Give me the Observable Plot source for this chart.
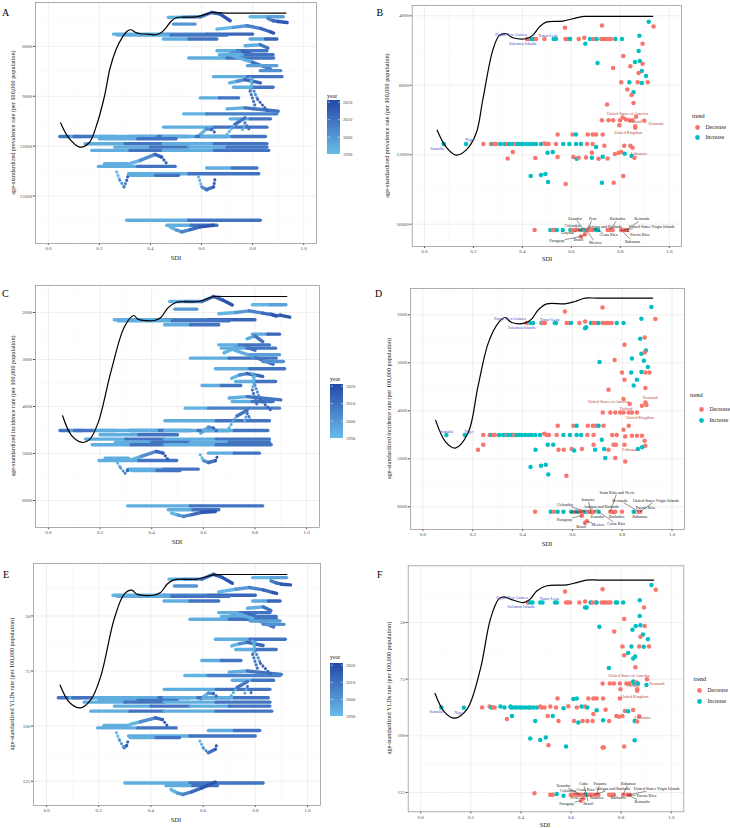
<!DOCTYPE html>
<html><head><meta charset="utf-8">
<script src="https://cdn.jsdelivr.net/npm/d3@7"></script>
<script src="https://cdn.jsdelivr.net/npm/@observablehq/plot@0.6"></script>
<style>
body{margin:0;background:#fff;}
#root{position:relative;width:730px;height:828px;overflow:hidden;background:#fff;}
</style></head><body><div id="root"></div><script>
// ---------------- DATA ----------------
const xTicks = [0, 0.2, 0.4, 0.6, 0.8, 1.0];
const xMinor = [0.1, 0.3, 0.5, 0.7, 0.9];
const yearTicks = [1990, 2000, 2010, 2020];
const trendLevels = ["Decrease", "Increase"];
const TREND = {D: "Decrease", I: "Increase"};

const ticksPrev = [6000, 9000, 12000, 15000];
const minorPrev = [4500, 7500, 10500, 13500, 16500];
const ticksPrevB = [4000, 8000, 12000, 16000];
const minorPrevB = [6000, 10000, 14000];
const ticksInc = [2000, 3000, 4000, 5000, 6000];
const minorIncC = [1500, 2500, 3500, 4500, 5500, 6500];
const minorIncD = [1500, 2500, 3500, 4500, 5500];
const ticksYld = [50, 75, 100, 125];
const minorYld = [37.5, 62.5, 87.5, 112.5];

// expected-value curves [SDI, rate]
const curveA = [[.048,10600],[.08,11500],[.124,12060],[.16,11800],[.19,10700],[.22,9000],[.242,7300],[.265,6200],[.288,5500],[.31,5080],[.325,5000],[.34,5150],[.36,5240],[.386,5260],[.42,5300],[.44,5200],[.46,4900],[.48,4500],[.503,4260],[.54,4240],[.58,4220],[.61,4100],[.64,3960],[.673,3990],[.70,4000],[.93,4000]];
const curveB = [[.052,10584],[.088,11541],[.129,12020],[.17,11733],[.211,10776],[.238,8862],[.279,5990],[.306,5129],[.333,5034],[.361,5263],[.415,5321],[.442,5129],[.469,4651],[.497,4364],[.565,4306],[.605,4172],[.653,4038],[.70,4038],[.932,4038]];
const curveC = [[.055,4198],[.09,4620],[.132,4765],[.16,4700],[.192,4354],[.244,3220],[.295,2298],[.331,2064],[.346,2142],[.41,2170],[.436,2106],[.462,1908],[.494,1787],[.583,1766],[.641,1660],[.673,1660],[.72,1660],[.923,1660]];
const curveD = [[.051,4200],[.09,4640],[.130,4776],[.181,4464],[.221,3492],[.262,2590],[.302,2173],[.329,2056],[.356,2160],[.409,2173],[.436,2090],[.463,1896],[.497,1771],[.57,1771],[.611,1722],[.651,1653],[.70,1653],[.922,1653]];
const curveE = [[.052,81.4],[.09,89.5],[.131,91.7],[.17,88],[.208,77.3],[.259,51.5],[.297,40.2],[.326,38.3],[.348,40.2],[.411,40.6],[.437,39.4],[.462,35.6],[.488,33.6],[.577,33.3],[.641,31.4],[.673,31.2],[.72,31.2],[.921,31.2]];
const curveF = [[.057,81.3],[.095,89.5],[.135,92.2],[.185,88.2],[.238,70.6],[.278,48.5],[.311,39.7],[.331,38.7],[.358,39.7],[.411,41.2],[.437,39.7],[.464,36],[.503,33.8],[.583,33.4],[.623,32.4],[.662,31.3],[.71,31.3],[.93,31.3]];

// country trajectories: [year, SDI, rate]
const streaksA = [
 [[1990,.47,4260],[2000,.53,4240],[2008,.595,4220],[2013,.64,3960],[2017,.673,4060],[2021,.712,4460]],
 [[1990,.79,4220],[1996,.86,4220],[2000,.92,4220]],
 [[2004,.86,4320],[2010,.88,4460],[2015,.90,4500],[2021,.935,4560]],
 [[1995,.49,4660],[2015,.575,4660]],
 [[1990,.66,4960],[1997,.725,4860],[2004,.778,4760],[2010,.83,4920],[2016,.869,5120],[2021,.882,5200]],
 [[1990,.255,5260],[2000,.45,5260],[2010,.62,5260],[2021,.80,5260]],
 [[1990,.27,5320],[2005,.48,5320],[2021,.70,5320]],
 [[1990,.45,5560],[2005,.55,5560],[2021,.66,5560]],
 [[1990,.79,5560],[2010,.85,5560],[2021,.895,5560]],
 [[1990,.77,5960],[2005,.83,5900],[2021,.86,6100]],
 [[1990,.66,6260],[2005,.74,6260],[2021,.856,6260]],
 [[1990,.68,6600],[2000,.72,6400],[2010,.76,6300],[2021,.80,6500]],
 [[1990,.67,6500],[2005,.77,6500],[2021,.88,6500]],
 [[1990,.55,6700],[2005,.70,6700],[2021,.882,6700]],
 [[1990,.72,6560],[2005,.80,6960],[2021,.87,7360]],
 [[1990,.78,7160],[2021,.895,7160]],
 [[1995,.83,7460],[2021,.91,7460]],
 [[1990,.647,7820],[2005,.78,7820],[2021,.915,7820]],
 [[1990,.71,8200],[2000,.74,8100],[2010,.77,8000],[2021,.83,8200]],
 [[1990,.725,8460],[2005,.80,8460],[2021,.88,8460]],
 [[1990,.79,7900],[2000,.80,8500],[2010,.82,9200],[2021,.865,10000]],
 [[1990,.80,8000],[2005,.79,8700],[2021,.81,9600]],
 [[1990,.595,9100],[2005,.67,9100],[2021,.745,9100]],
 [[1990,.70,9760],[2005,.77,9700],[2021,.90,9900]],
 [[1990,.53,10060],[2000,.62,10060],[2021,.895,10060]],
 [[1990,.712,10360],[2005,.79,10360],[2021,.87,10360]],
 [[1990,.70,11300],[2005,.73,10700],[2021,.77,10300]],
 [[1990,.76,11000],[2005,.77,10600],[2021,.79,11100]],
 [[1990,.451,10860],[2005,.65,10860],[2021,.856,10860]],
 [[1990,.59,11360],[2000,.62,10960],[2010,.64,11000],[2021,.66,11300]],
 [[2021,.045,11420],[2005,.09,11420],[1990,.13,11420]],
 [[2021,.10,11420],[2005,.18,11420],[1990,.26,11420]],
 [[1990,.20,11420],[2005,.32,11420],[2021,.45,11420]],
 [[1990,.32,11420],[2005,.43,11420],[2021,.55,11420]],
 [[1990,.45,11420],[2005,.58,11420],[2021,.70,11420]],
 [[1990,.60,11420],[2005,.72,11420],[2021,.85,11420]],
 [[1990,.20,11560],[2005,.35,11560],[2021,.50,11560]],
 [[1990,.144,11860],[2005,.30,11860],[2021,.45,11860]],
 [[1990,.45,11860],[2005,.65,11860],[2021,.856,11860]],
 [[1990,.26,12060],[2005,.40,12060],[2021,.55,12060]],
 [[1990,.55,12060],[2005,.70,12060],[2021,.856,12060]],
 [[1990,.17,12260],[2005,.32,12260],[2021,.45,12260]],
 [[1990,.45,12260],[2005,.65,12260],[2021,.863,12260]],
 [[1990,.32,13060],[2000,.36,12860],[2010,.418,12500],[2016,.444,12660],[2021,.464,13060]],
 [[1990,.196,13220],[2005,.35,13220],[2021,.497,13220]],
 [[1990,.22,13060],[2005,.31,13060]],
 [[1990,.62,13320],[2005,.72,13320],[2021,.817,13320]],
 [[1990,.314,13660],[2005,.55,13660],[2021,.824,13660]],
 [[1990,.32,13760],[2005,.42,13760],[2021,.51,13760]],
 [[1990,.268,13560],[1998,.28,14060],[2005,.297,14460],[2012,.307,14060],[2021,.314,13660]],
 [[1990,.588,13860],[2000,.601,14460],[2008,.62,14620],[2015,.647,14460],[2021,.654,13860]],
 [[1990,.307,16460],[2005,.55,16460],[2021,.83,16460]],
 [[1990,.464,16760],[2005,.56,16760],[2021,.66,16760]],
 [[1990,.477,16860],[1998,.503,17060],[2004,.523,17160],[2010,.556,17020],[2016,.595,16860],[2021,.647,16760]]
];
const streaksC = [
 [[1990,.47,1766],[2000,.53,1766],[2008,.595,1766],[2013,.64,1660],[2017,.673,1730],[2021,.712,1840]],
 [[1990,.79,1837],[1996,.86,1837],[2000,.92,1837]],
 [[2004,.86,2030],[2010,.88,2070],[2015,.90,2060],[2021,.935,2100]],
 [[1995,.49,1929],[2015,.575,1929]],
 [[1990,.66,2028],[1997,.725,2000],[2004,.778,1965],[2010,.83,2014],[2016,.869,2050],[2021,.882,2070]],
 [[1990,.255,2156],[2000,.45,2156],[2010,.62,2156],[2021,.80,2156]],
 [[1990,.27,2177],[2005,.48,2177],[2021,.70,2177]],
 [[1990,.45,2262],[2005,.55,2262],[2021,.66,2262]],
 [[1990,.79,2461],[2010,.85,2461],[2021,.895,2461]],
 [[1990,.77,2560],[2005,.80,2500],[2021,.83,2620]],
 [[1990,.66,2688],[2005,.74,2688],[2021,.856,2688]],
 [[1990,.68,2860],[2000,.72,2760],[2010,.76,2720],[2021,.80,2800]],
 [[1990,.67,2759],[2005,.77,2759],[2021,.88,2759]],
 [[1990,.55,2971],[2005,.70,2971],[2021,.882,2971]],
 [[1990,.72,2800],[2005,.80,2950],[2021,.87,3100]],
 [[1990,.78,2900],[2021,.895,2900]],
 [[1995,.83,3042],[2021,.91,3042]],
 [[1990,.647,3198],[2005,.78,3198],[2021,.915,3198]],
 [[1990,.71,3400],[2000,.74,3330],[2010,.77,3300],[2021,.83,3360]],
 [[1990,.725,3468],[2005,.80,3468],[2021,.88,3468]],
 [[1990,.79,3300],[2000,.80,3550],[2010,.82,3850],[2021,.865,4100]],
 [[1990,.80,3350],[2005,.79,3650],[2021,.81,4000]],
 [[1990,.595,3553],[2005,.67,3553],[2021,.745,3553]],
 [[1990,.70,3820],[2005,.77,3790],[2021,.90,3860]],
 [[1990,.53,4035],[2000,.62,4035],[2021,.895,4035]],
 [[1990,.712,3893],[2005,.79,3893],[2021,.87,3893]],
 [[1990,.70,4450],[2005,.73,4200],[2021,.77,4080]],
 [[1990,.76,4300],[2005,.77,4150],[2021,.79,4350]],
 [[1990,.451,4304],[2005,.65,4304],[2021,.856,4304]],
 [[1990,.59,4567],[2000,.62,4440],[2010,.64,4460],[2021,.66,4560]],
 [[2021,.045,4510],[2005,.09,4510],[1990,.13,4510]],
 [[2021,.10,4510],[2005,.18,4510],[1990,.26,4510]],
 [[1990,.20,4510],[2005,.32,4510],[2021,.45,4510]],
 [[1990,.32,4510],[2005,.43,4510],[2021,.55,4510]],
 [[1990,.45,4510],[2005,.58,4510],[2021,.70,4510]],
 [[1990,.60,4510],[2005,.72,4510],[2021,.85,4510]],
 [[1990,.20,4600],[2005,.35,4600],[2021,.50,4600]],
 [[1990,.144,4694],[2005,.30,4694],[2021,.45,4694]],
 [[1990,.45,4694],[2005,.65,4694],[2021,.856,4694]],
 [[1990,.26,4760],[2005,.40,4760],[2021,.55,4760]],
 [[1990,.55,4760],[2005,.70,4760],[2021,.856,4760]],
 [[1990,.17,4815],[2005,.32,4815],[2021,.45,4815]],
 [[1990,.45,4815],[2005,.65,4815],[2021,.863,4815]],
 [[1990,.32,5134],[2000,.36,5060],[2010,.418,4957],[2016,.444,4990],[2021,.464,5134]],
 [[1990,.196,5148],[2005,.35,5148],[2021,.497,5148]],
 [[1990,.22,5100],[2005,.31,5100]],
 [[1990,.62,4992],[2005,.72,4992],[2021,.817,4992]],
 [[1990,.307,5333],[2005,.45,5333],[2021,.58,5333]],
 [[1990,.32,5360],[2005,.42,5360],[2021,.51,5360]],
 [[1990,.268,5205],[1998,.28,5310],[2005,.297,5418],[2012,.307,5360],[2021,.314,5311]],
 [[1990,.588,5028],[2000,.601,5150],[2008,.62,5191],[2015,.647,5150],[2021,.654,5064]],
 [[1990,.307,6113],[2005,.55,6113],[2021,.83,6113]],
 [[1990,.464,6197],[2005,.56,6197],[2021,.66,6197]],
 [[1990,.477,6268],[1998,.503,6310],[2004,.523,6339],[2010,.556,6300],[2016,.595,6250],[2021,.647,6233]]
];
const streaksE = [
 [[1990,.47,33.3],[2000,.53,33.3],[2008,.595,33.3],[2013,.64,31.1],[2017,.673,32.5],[2021,.712,35.2]],
 [[1990,.79,32.6],[1996,.86,32.6],[2000,.92,32.6]],
 [[2004,.86,34.1],[2010,.88,35],[2015,.90,35.6],[2021,.935,35.9]],
 [[1995,.49,36.4],[2015,.575,36.4]],
 [[1990,.66,39.1],[1997,.725,37.9],[2004,.778,37.1],[2010,.83,38.2],[2016,.869,39.4],[2021,.882,39.8]],
 [[1990,.255,40.6],[2000,.45,40.6],[2010,.62,40.6],[2021,.80,40.6]],
 [[1990,.27,41.1],[2005,.48,41.1],[2021,.70,41.1]],
 [[1990,.45,43.2],[2005,.55,43.2],[2021,.66,43.2]],
 [[1990,.79,43.2],[2010,.85,43.2],[2021,.895,43.2]],
 [[1990,.77,46.5],[2005,.83,45.9],[2021,.86,47.5]],
 [[1990,.66,48.5],[2005,.74,48.5],[2021,.856,48.5]],
 [[1990,.68,51],[2000,.72,49.5],[2010,.76,48.8],[2021,.80,50]],
 [[1990,.67,50.2],[2005,.77,50.2],[2021,.88,50.2]],
 [[1990,.55,51.5],[2005,.70,51.5],[2021,.882,51.5]],
 [[1990,.72,48.5],[2005,.80,51.5],[2021,.87,55]],
 [[1990,.78,52.3],[2021,.895,52.3]],
 [[1995,.83,53.8],[2021,.91,53.8]],
 [[1990,.647,60.6],[2005,.78,60.6],[2021,.915,60.6]],
 [[1990,.71,63.6],[2000,.74,62.6],[2010,.77,62],[2021,.83,63.4]],
 [[1990,.725,65.2],[2005,.80,65.2],[2021,.88,65.2]],
 [[1990,.79,61.4],[2000,.80,66],[2010,.82,71.5],[2021,.865,77.3]],
 [[1990,.80,62],[2005,.79,67.5],[2021,.81,74.5]],
 [[1990,.595,70.2],[2005,.67,70.2],[2021,.745,70.2]],
 [[1990,.70,75.5],[2005,.77,75],[2021,.90,76.5]],
 [[1990,.53,77],[2000,.62,77],[2021,.895,77]],
 [[1990,.712,79.2],[2005,.79,79.2],[2021,.87,79.2]],
 [[1990,.70,87.5],[2005,.73,82.5],[2021,.77,79.8]],
 [[1990,.76,85],[2005,.77,82],[2021,.79,86]],
 [[1990,.451,83.3],[2005,.65,83.3],[2021,.856,83.3]],
 [[1990,.59,87.7],[2000,.62,85],[2010,.64,85.2],[2021,.66,87.4]],
 [[2021,.045,87.1],[2005,.09,87.1],[1990,.13,87.1]],
 [[2021,.10,87.1],[2005,.18,87.1],[1990,.26,87.1]],
 [[1990,.20,87.1],[2005,.32,87.1],[2021,.45,87.1]],
 [[1990,.32,87.1],[2005,.43,87.1],[2021,.55,87.1]],
 [[1990,.45,87.1],[2005,.58,87.1],[2021,.70,87.1]],
 [[1990,.60,87.1],[2005,.72,87.1],[2021,.85,87.1]],
 [[1990,.20,88.3],[2005,.35,88.3],[2021,.50,88.3]],
 [[1990,.144,89.1],[2005,.30,89.1],[2021,.45,89.1]],
 [[1990,.45,89.1],[2005,.65,89.1],[2021,.856,89.1]],
 [[1990,.26,90.9],[2005,.40,90.9],[2021,.55,90.9]],
 [[1990,.55,90.9],[2005,.70,90.9],[2021,.856,90.9]],
 [[1990,.17,93.2],[2005,.32,93.2],[2021,.45,93.2]],
 [[1990,.45,93.2],[2005,.65,93.2],[2021,.863,93.2]],
 [[1990,.32,99.2],[2000,.36,98],[2010,.418,96.2],[2016,.444,97],[2021,.464,100]],
 [[1990,.196,100.8],[2005,.35,100.8],[2021,.497,100.8]],
 [[1990,.22,99.7],[2005,.31,99.7]],
 [[1990,.62,102],[2005,.72,102],[2021,.817,102]],
 [[1990,.314,104.5],[2005,.55,104.5],[2021,.80,104.5]],
 [[1990,.32,105.2],[2005,.42,105.2],[2021,.51,105.2]],
 [[1990,.268,103],[1998,.28,106.5],[2005,.297,109.8],[2012,.307,108.8],[2021,.314,106]],
 [[1990,.588,106.8],[2000,.601,110],[2008,.62,112.1],[2015,.647,110.5],[2021,.654,107.6]],
 [[1990,.30,125.8],[2005,.55,125.8],[2021,.83,125.8]],
 [[1990,.458,127],[2005,.56,127],[2021,.655,127]],
 [[1990,.477,128.8],[1998,.503,130.4],[2004,.523,131],[2010,.556,129.8],[2016,.595,128],[2021,.647,125.4]]
];

// 2021 points: [SDI, rate, trend]
const pointsB = [
 [.574,4689,"D"],[.725,4555,"D"],[.916,4345,"I"],[.936,4612,"D"],
 [.419,5340,"D"],[.429,5340,"D"],[.438,5340,"I"],[.446,5340,"I"],[.456,5340,"D"],[.490,5340,"D"],[.528,5340,"I"],[.537,5340,"I"],[.576,5340,"D"],[.586,5340,"D"],[.595,5340,"I"],[.630,5340,"D"],[.653,5263,"D"],[.676,5340,"I"],[.690,5340,"D"],[.703,5340,"I"],[.722,5340,"D"],[.732,5340,"D"],[.741,5340,"D"],[.752,5340,"D"],[.762,5340,"D"],[.780,5340,"I"],[.807,5340,"I"],
 [.657,5608,"I"],[.878,5148,"I"],[.891,5608,"D"],[.875,6029,"I"],[.812,6316,"D"],[.880,6603,"I"],[.707,6718,"I"],[.860,6660,"I"],[.891,6756,"D"],[.771,7005,"D"],[.841,6909,"D"],[.888,7177,"I"],[.875,7292,"D"],[.905,7464,"I"],[.804,7828,"D"],[.837,7828,"I"],[.871,7828,"D"],[.888,7866,"I"],[.912,7828,"D"],[.829,8249,"D"],[.854,8402,"I"],[.846,8555,"D"],[.854,9015,"D"],[.746,9111,"D"],
 [.725,10010,"D"],[.752,10010,"D"],[.771,10010,"D"],[.799,10010,"D"],[.810,9857,"D"],[.823,9970,"D"],[.837,10010,"D"],[.850,10010,"D"],[.864,9819,"D"],[.898,10048,"D"],[.861,10355,"D"],[.861,10450,"D"],[.796,10297,"D"],
 [.544,10833,"D"],[.605,10833,"D"],[.619,10833,"I"],[.667,10833,"D"],[.687,10833,"D"],[.701,10833,"D"],[.728,10833,"D"],
 [.079,11388,"I"],[.170,11388,"I"],[.241,11388,"D"],[.272,11388,"D"],[.279,11388,"I"],[.286,11388,"D"],[.293,11388,"D"],[.310,11388,"I"],[.327,11388,"I"],[.333,11388,"I"],[.340,11388,"D"],[.347,11388,"I"],[.361,11388,"I"],[.371,11388,"D"],[.381,11388,"I"],[.392,11388,"I"],[.401,11388,"I"],[.415,11388,"I"],[.429,11388,"I"],[.442,11388,"I"],[.456,11388,"I"],[.476,11388,"I"],[.490,11350,"D"],[.497,11388,"D"],[.507,11388,"D"],[.537,11388,"D"],[.567,11388,"I"],[.592,11388,"I"],[.619,11388,"I"],[.639,11388,"I"],[.664,11388,"D"],[.687,11388,"D"],
 [.735,11484,"D"],[.816,11484,"D"],[.841,11484,"D"],[.701,11560,"I"],[.850,11598,"D"],[.361,11847,"D"],[.503,11886,"I"],[.524,11847,"I"],[.684,11886,"D"],[.778,11962,"D"],[.793,11886,"D"],[.804,11847,"D"],[.818,11943,"I"],[.846,12077,"I"],[.340,12211,"D"],[.453,12192,"D"],[.544,12135,"D"],[.608,12135,"D"],[.622,12230,"I"],[.630,12173,"D"],[.660,12154,"D"],[.684,12173,"I"],[.711,12230,"D"],[.728,12115,"I"],[.748,12211,"D"],[.858,12173,"D"],
 [.434,13226,"I"],[.476,13168,"I"],[.494,13111,"I"],[.505,13570,"I"],[.725,13608,"I"],[.577,13685,"D"],[.773,13608,"D"],[.812,13226,"D"],
 [.450,16326,"D"],[.514,16326,"I"],[.524,16326,"D"],[.531,16326,"D"],[.541,16326,"I"],[.565,16326,"I"],[.596,16326,"I"],[.605,16326,"D"],[.616,16326,"D"],[.633,16326,"D"],[.644,16326,"I"],[.653,16326,"D"],[.660,16326,"I"],[.667,16326,"D"],[.676,16326,"D"],[.687,16326,"D"],[.701,16326,"I"],[.710,16326,"I"],[.748,16326,"D"],[.759,16326,"D"],[.769,16326,"D"],[.803,16326,"D"],[.816,16326,"D"],[.827,16326,"D"],[.639,16709,"D"],[.656,16575,"D"]
];
const pointsD = [
 [.570,1931,"D"],[.721,1847,"D"],[.917,1840,"I"],[.933,2090,"D"],[.877,2083,"I"],
 [.416,2173,"D"],[.432,2173,"I"],[.442,2173,"I"],[.476,2173,"I"],[.480,2173,"D"],[.490,2173,"D"],[.529,2173,"I"],[.534,2173,"I"],[.577,2173,"D"],[.587,2173,"D"],[.595,2173,"I"],[.628,2173,"D"],[.651,2138,"D"],[.674,2173,"I"],[.685,2173,"D"],[.695,2173,"D"],[.705,2173,"I"],[.722,2173,"D"],[.732,2173,"D"],[.740,2173,"D"],[.748,2173,"D"],[.758,2173,"D"],[.778,2173,"I"],[.805,2173,"I"],[.651,2278,"I"],[.655,2260,"I"],
 [.890,2472,"D"],[.872,2500,"I"],[.809,2625,"D"],[.895,2743,"I"],[.877,2812,"I"],[.890,2784,"D"],[.839,2909,"I"],[.769,2944,"D"],[.709,2985,"I"],[.887,2958,"I"],[.903,3090,"I"],[.836,3201,"I"],[.799,3201,"D"],[.877,3194,"I"],[.893,3201,"D"],[.909,3201,"D"],[.809,3353,"D"],[.859,3353,"I"],[.846,3471,"I"],[.893,3527,"D"],[.745,3562,"D"],
 [.722,4033,"D"],[.752,4033,"D"],[.772,4033,"D"],[.792,4033,"D"],[.805,4033,"D"],[.826,4033,"D"],[.839,4033,"D"],[.859,4033,"D"],[.805,3756,"D"],[.830,3860,"D"],[.879,3895,"D"],[.897,3880,"D"],[.893,3825,"D"],
 [.541,4311,"D"],[.604,4311,"D"],[.617,4311,"I"],[.662,4311,"D"],[.682,4311,"D"],[.695,4311,"D"],[.705,4311,"I"],[.725,4311,"D"],[.826,4311,"D"],
 [.094,4505,"I"],[.168,4505,"I"],[.242,4505,"D"],[.268,4505,"D"],[.275,4505,"I"],[.282,4505,"D"],[.289,4505,"D"],[.306,4505,"I"],[.322,4505,"I"],[.330,4505,"I"],[.336,4505,"D"],[.343,4505,"I"],[.357,4505,"I"],[.366,4505,"D"],[.376,4505,"I"],[.387,4505,"I"],[.396,4505,"I"],[.410,4505,"I"],[.423,4505,"I"],[.436,4505,"I"],[.451,4505,"I"],[.470,4505,"I"],[.487,4480,"D"],[.497,4505,"D"],[.506,4505,"D"],[.537,4505,"D"],[.564,4505,"I"],[.590,4505,"I"],[.617,4505,"I"],[.635,4505,"I"],[.660,4505,"D"],[.685,4505,"D"],[.760,4505,"D"],[.778,4505,"D"],[.805,4394,"D"],[.812,4533,"D"],
 [.221,4811,"D"],[.242,4707,"D"],[.452,4811,"I"],[.501,4707,"I"],[.523,4707,"I"],[.544,4811,"D"],[.565,4811,"D"],[.597,4797,"D"],[.607,4825,"I"],[.638,4797,"D"],[.685,4707,"D"],[.691,4811,"I"],[.718,4603,"I"],[.727,4797,"I"],[.745,4811,"D"],[.765,4707,"D"],[.775,4707,"D"],[.809,4707,"D"],[.839,4519,"D"],[.859,4519,"D"],[.879,4519,"D"],[.890,4623,"D"],[.893,4727,"D"],[.863,4797,"I"],[.880,4760,"I"],
 [.732,4985,"I"],[.772,4985,"D"],[.812,5054,"D"],[.432,5172,"I"],[.474,5144,"I"],[.493,5123,"I"],[.503,5325,"I"],[.576,5352,"D"],
 [.450,6101,"D"],[.513,6101,"I"],[.526,6101,"D"],[.541,6101,"I"],[.564,6101,"I"],[.597,6101,"I"],[.611,6101,"D"],[.620,6101,"I"],[.631,6101,"D"],[.644,6101,"D"],[.651,6101,"I"],[.664,6101,"D"],[.675,6101,"D"],[.687,6101,"D"],[.705,6101,"I"],[.752,6101,"D"],[.761,6101,"D"],[.772,6101,"D"],[.799,6101,"D"],[.846,6101,"I"],[.866,6101,"D"],[.872,6101,"D"],[.638,6184,"D"],[.658,6302,"D"],[.651,6330,"D"]
];
const pointsF = [
 [.576,36.3,"D"],[.726,35.3,"D"],[.921,33.5,"I"],[.938,35.6,"D"],
 [.428,41.2,"D"],[.437,41.2,"I"],[.446,41.2,"I"],[.477,41.2,"I"],[.486,41.2,"I"],[.536,41.2,"I"],[.543,41.2,"I"],[.580,41.2,"D"],[.587,41.2,"D"],[.596,41.2,"D"],[.633,41.2,"D"],[.656,40.8,"D"],[.678,41.2,"I"],[.686,41.2,"D"],[.699,41.2,"D"],[.702,41.2,"I"],[.722,41.2,"D"],[.731,41.2,"D"],[.738,41.2,"D"],[.748,41.2,"D"],[.757,41.2,"D"],[.779,41.2,"I"],[.784,41.2,"I"],[.808,41.2,"I"],
 [.656,43.4,"I"],[.662,43.4,"I"],[.874,40.2,"I"],[.891,43.4,"D"],[.874,47.1,"I"],[.812,48.5,"D"],[.877,51.2,"I"],[.713,51.9,"I"],[.858,51.5,"I"],[.894,51.5,"D"],[.772,54,"D"],[.845,53.2,"I"],[.887,55.3,"I"],[.877,56.3,"D"],[.907,57.4,"I"],[.805,60.6,"D"],[.841,60.6,"I"],[.872,60.6,"D"],[.890,60.7,"I"],[.911,60.6,"D"],[.828,63.5,"I"],[.812,64.4,"D"],[.848,65.9,"I"],[.856,65,"I"],[.857,69.8,"D"],[.751,70.1,"I"],
 [.726,76.9,"D"],[.755,76.9,"D"],[.771,76.9,"D"],[.795,76.9,"D"],[.821,76.9,"D"],[.834,76.9,"D"],[.848,76,"I"],[.852,76.9,"I"],[.861,76.5,"D"],[.867,76.9,"I"],[.901,77.6,"I"],[.903,75,"D"],[.864,79.4,"D"],[.864,80.1,"D"],[.797,79.4,"D"],
 [.546,83.5,"D"],[.609,83.8,"I"],[.623,83.5,"I"],[.669,83.5,"D"],[.689,83.5,"D"],[.702,83.5,"D"],[.728,83.5,"D"],[.795,83.5,"D"],
 [.082,87.5,"I"],[.172,87.6,"I"],[.245,87.5,"D"],[.275,87.1,"D"],[.282,87.5,"I"],[.289,87.5,"D"],[.295,87.5,"D"],[.318,87.1,"I"],[.334,87.5,"I"],[.358,87.1,"I"],[.360,87.5,"I"],[.371,87.5,"I"],[.382,87.5,"I"],[.395,87.5,"I"],[.404,87.5,"I"],[.417,87.5,"I"],[.430,87.5,"I"],[.437,87.5,"I"],[.450,87.5,"I"],[.464,87.5,"I"],[.477,87.1,"D"],[.483,87.5,"D"],[.494,87.5,"D"],[.517,87.1,"D"],[.540,87.5,"D"],[.570,87.8,"I"],[.589,87,"D"],[.623,87.5,"D"],[.642,87.1,"I"],[.656,87.1,"D"],[.665,87.5,"I"],
 [.344,92.6,"D"],[.364,91.2,"I"],[.457,93.4,"I"],[.507,91.2,"D"],[.527,91.2,"I"],[.550,93.4,"D"],[.612,93.4,"D"],[.629,94.1,"I"],[.646,93.4,"D"],[.665,93.4,"D"],[.686,93.4,"D"],[.689,90.4,"D"],[.702,88.7,"I"],[.728,93.1,"I"],[.738,88.5,"D"],[.752,93.4,"D"],[.781,91.2,"D"],[.791,91.6,"D"],[.805,91.2,"D"],[.815,89,"D"],[.828,89.1,"I"],[.848,88.6,"D"],[.872,91.4,"D"],[.854,93.4,"I"],[.864,93.7,"D"],
 [.437,101.2,"I"],[.477,101.8,"I"],[.499,100.7,"I"],[.510,104.1,"D"],[.580,104.7,"I"],[.726,105.1,"D"],[.731,105.1,"D"],[.812,104.7,"D"],[.854,101.9,"I"],
 [.454,125.3,"D"],[.517,126,"D"],[.527,126,"D"],[.543,125.7,"I"],[.570,126.4,"I"],[.599,126,"D"],[.609,126,"D"],[.620,126,"D"],[.630,126,"D"],[.640,126,"D"],[.652,126,"D"],[.662,126,"I"],[.673,126,"D"],[.682,126,"D"],[.691,126,"D"],[.702,126,"D"],[.709,126,"D"],[.752,126,"D"],[.762,126,"D"],[.771,126,"D"],[.808,126,"D"],[.824,126,"D"],[.834,126,"D"],[.640,128.6,"D"],[.649,127.6,"D"]
];

// labels: [name, point SDI, point rate, label SDI, label rate, group]
const labelsB = [
 ["Papua New Guinea",.438,5340,.354,5072,"I"],["Timor-Leste",.537,5340,.505,5168,"I"],["Solomon Islands",.446,5340,.401,5589,"I"],
 ["Niger",.170,11388,.186,11120,"I"],["Somalia",.079,11388,.052,11656,"I"],
 ["United States of America",.864,9819,.830,9608,"D"],["Finland",.850,10010,.861,10106,"D"],["Denmark",.898,10048,.946,10220,"D"],
 ["United Kingdom",.861,10450,.833,10737,"D"],["Lithuania",.858,12173,.875,11943,"D"],
 ["Ecuador",.653,16326,.615,15657,"N"],["Peru",.667,16326,.687,15657,"N"],["Barbados",.759,16326,.789,15694,"N"],["Bermuda",.827,16326,.888,15694,"N"],
 ["Colombia",.633,16326,.605,16058,"N"],["Guyana",.644,16326,.585,16460,"N"],["Antigua and Barbuda",.687,16326,.735,16135,"N"],
 ["United States Virgin Islands",.816,16326,.928,16135,"N"],["Costa Rica",.701,16326,.752,16613,"N"],["Puerto Rico",.803,16326,.880,16575,"N"],
 ["Paraguay",.639,16709,.541,16977,"N"],["Brazil",.656,16575,.629,16881,"N"],["Mexico",.660,16326,.698,17053,"N"],["Bahamas",.803,16326,.850,16996,"N"]
];
const labelsD = [
 ["Papua New Guinea",.432,2173,.349,2083,"I"],["Timor-Leste",.534,2173,.510,2104,"I"],["Solomon Islands",.442,2173,.396,2278,"I"],
 ["Somalia",.094,4505,.094,4427,"I"],["Niger",.168,4505,.185,4427,"I"],
 ["Denmark",.897,3880,.913,3735,"D"],["United States of America",.805,3756,.745,3804,"D"],["Finland",.826,4033,.815,3964,"D"],
 ["United Kingdom",.859,4033,.872,4151,"D"],["Lithuania",.863,4797,.832,4811,"D"],
 ["Saint Kitts and Nevis",.752,6101,.779,5699,"N"],["Jamaica",.675,6101,.662,5852,"N"],["Bermuda",.866,6101,.79,5866,"N"],
 ["United States Virgin Islands",.872,6101,.935,5866,"N"],["Colombia",.651,6101,.570,5949,"N"],["Antigua and Barbuda",.687,6101,.715,6005,"N"],
 ["Puerto Rico",.872,6101,.893,6018,"N"],["Guyana",.620,6101,.612,6110,"N"],["Paraguay",.638,6184,.568,6268,"N"],
 ["Ecuador",.664,6101,.70,6206,"N"],["Barbados",.761,6101,.777,6206,"N"],["Bahamas",.846,6101,.870,6206,"N"],
 ["Brazil",.651,6330,.635,6407,"N"],["Mexico",.658,6302,.702,6372,"N"],["Costa Rica",.705,6101,.776,6358,"N"]
];
const labelsF = [
 ["Papua New Guinea",.437,41.2,.364,39,"I"],["Timor-Leste",.536,41.2,.514,39.7,"I"],["Solomon Islands",.446,41.2,.400,43.2,"I"],
 ["Somalia",.082,87.5,.062,89.4,"I"],["Niger",.172,87.6,.152,89.7,"I"],
 ["United States of America",.861,76.5,.832,73.5,"D"],["Denmark",.903,75,.943,76.8,"D"],["Finland",.834,76.9,.848,77.9,"D"],
 ["United Kingdom",.864,80.1,.854,82.8,"D"],["Lithuania",.864,93.7,.885,91.9,"D"],
 ["Ecuador",.640,126,.570,122,"N"],["Cuba",.662,126,.649,121.1,"N"],["Panama",.702,126,.715,120.9,"N"],["Bahamas",.808,126,.828,120.9,"N"],
 ["Colombia",.630,126,.588,124.1,"N"],["Costa Rica",.652,126,.657,123.6,"N"],["Antigua and Barbuda",.691,126,.766,123.4,"N"],
 ["United States Virgin Islands",.834,126,.942,123.4,"N"],["Peru",.649,127.6,.612,127.4,"N"],["Jamaica",.673,126,.702,127.4,"N"],
 ["Barbados",.771,126,.788,127.4,"N"],["Puerto Rico",.824,126,.901,126.5,"N"],["Paraguay",.640,128.6,.583,130,"N"],
 ["Brazil",.662,126,.669,130,"N"],["Bermuda",.824,126,.883,129.1,"N"]
];

// ---------------- RENDER ----------------
const FONT = '"Liberation Serif","Times New Roman",serif';
const root = document.getElementById("root");
const W = 365, H = 276;
const YEAR_COLOR = {type: "linear", domain: [1990, 2021], range: ["#67BDE8", "#2049A8"], interpolate: "lab"};
const TREND_COLOR = {domain: trendLevels, range: ["#F8766D", "#00BFC4"]};
const LABEL_FILL = {I: "#4848C0", D: "#B8443E", N: "#1a1a1a"};

function place(svg, left, top) {
  svg.style.position = "absolute";
  svg.style.left = left + "px";
  svg.style.top = top + "px";
  root.appendChild(svg);
}

function pxScale(cfg) {
  return {
    kx: (W - cfg.m[0] - cfg.m[1]) / 1.1,
    ky: (H - cfg.m[2] - cfg.m[3]) / (cfg.yDomain[1] - cfg.yDomain[0])
  };
}

function panel(cfg, color, marks) {
  const svg = Plot.plot({
    width: W, height: H,
    marginLeft: cfg.m[0], marginRight: cfg.m[1], marginTop: cfg.m[2], marginBottom: cfg.m[3],
    style: {fontFamily: FONT, fontSize: "5px", color: "#4d4d4d", background: "none", overflow: "visible", maxWidth: "none"},
    x: {domain: [-0.05, 1.05], ticks: xTicks, tickFormat: d3.format(".1f"), tickSize: 2, tickPadding: 1.2, label: null},
    y: {domain: cfg.yDomain, reverse: true, ticks: cfg.yTicks, tickFormat: d => String(d), tickSize: 2, tickPadding: 1.2, label: null},
    color,
    marks: [
      Plot.ruleX(xMinor, {stroke: "#f2f2f2", strokeWidth: 0.4}),
      Plot.ruleY(cfg.yMinor, {stroke: "#f2f2f2", strokeWidth: 0.4}),
      Plot.ruleX(xTicks, {stroke: "#e4e4e4", strokeWidth: 0.6}),
      Plot.ruleY(cfg.yTicks, {stroke: "#e4e4e4", strokeWidth: 0.6}),
      ...marks,
      Plot.frame({stroke: "#9a9a9a", strokeWidth: 0.8})
    ]
  });
  place(svg, cfg.left, cfg.top);
}

// split each trajectory into segments; steep parts are drawn as spaced dots like the reference
function segments(streaks, cfg) {
  const {kx, ky} = pxScale(cfg);
  const out = [];
  streaks.forEach(s => {
    for (let k = 0; k < s.length - 1; k++) {
      const a = s[k], b = s[k + 1];
      const steep = Math.abs(b[2] - a[2]) * ky > Math.abs(b[1] - a[1]) * kx * 0.9;
      out.push({x1: a[1], y1: a[2], x2: b[1], y2: b[2], year: Math.min(a[0], b[0]) + Math.abs(b[0] - a[0]) * 0.25, steep});
    }
  });
  return out;
}

function curveMark(curve) {
  return Plot.line(curve, {x: d => d[0], y: d => d[1], curve: "catmull-rom", stroke: "#000", strokeWidth: 1.2});
}

function trajectoryPanel(cfg, streaks, curve) {
  const segs = segments(streaks, cfg);
  panel(cfg, YEAR_COLOR, [
    Plot.link(segs.filter(d => !d.steep), {x1: "x1", y1: "y1", x2: "x2", y2: "y2", stroke: "year", strokeWidth: 3.4, strokeLinecap: "round"}),
    Plot.link(segs.filter(d => d.steep), {x1: "x1", y1: "y1", x2: "x2", y2: "y2", stroke: "year", strokeWidth: 3.1, strokeLinecap: "round", strokeDasharray: "0.01 3.6"}),
    curveMark(curve)
  ]);
}

function scatterPanel(cfg, points, curve, labels) {
  const {kx, ky} = pxScale(cfg);
  const leaders = [];
  labels.filter(d => d[5] === "N").forEach(d => {
    const dxp = (d[1] - d[3]) * kx, dyp = (d[2] - d[4]) * ky;
    const hw = d[0].length * 0.9 + 0.6, hh = 2.3;
    const t = Math.min(dxp ? hw / Math.abs(dxp) : Infinity, dyp ? hh / Math.abs(dyp) : Infinity);
    if (t < 0.9) leaders.push({x1: d[3] + t * (d[1] - d[3]), y1: d[4] + t * (d[2] - d[4]), x2: d[1], y2: d[2]});
  });
  const textMarks = ["I", "D", "N"].map(g => Plot.text(labels.filter(d => d[5] === g), {
    x: d => d[3], y: d => d[4], text: d => d[0], fill: LABEL_FILL[g], fontSize: 4.1, fontFamily: FONT
  }));
  panel(cfg, TREND_COLOR, [
    Plot.dot(points, {x: d => d[0], y: d => d[1], fill: d => TREND[d[2]], r: 2.25}),
    curveMark(curve),
    Plot.link(leaders, {x1: "x1", y1: "y1", x2: "x2", y2: "y2", stroke: "#111", strokeWidth: 0.45}),
    ...textMarks
  ]);
}

function yearLegend(left, top, h) {
  const svg = Plot.plot({
    width: 40, height: h + 6, marginTop: 3, marginBottom: 3, marginLeft: 0, marginRight: 27,
    style: {fontFamily: FONT, fontSize: "4.6px", color: "#4d4d4d", background: "none", overflow: "visible", maxWidth: "none"},
    x: {domain: [0, 1], axis: null},
    y: {domain: [1990, 2021], ticks: yearTicks, tickSize: 0, tickPadding: 2.5, axis: "right", label: null, tickFormat: d => String(d)},
    color: YEAR_COLOR,
    marks: [
      Plot.rect(d3.range(1990, 2021), {x1: 0, x2: 1, y1: d => d, y2: d => Math.min(2021, d + 1.6), fill: d => d + 0.5}),
      Plot.link(yearTicks, {x1: () => 0, x2: () => 0.2, y1: d => d, y2: d => d, stroke: "white", strokeWidth: 0.5}),
      Plot.link(yearTicks, {x1: () => 0.8, x2: () => 1, y1: d => d, y2: d => d, stroke: "white", strokeWidth: 0.5})
    ]
  });
  place(svg, left, top);
}

function trendLegend(left, top, h) {
  const svg = Plot.plot({
    width: 50, height: h, marginTop: 0, marginBottom: 0, marginLeft: 4, marginRight: 0,
    style: {fontFamily: FONT, fontSize: "5.6px", color: "#1a1a1a", background: "none", overflow: "visible", maxWidth: "none"},
    x: {domain: [0, 1], axis: null},
    y: {type: "point", domain: trendLevels, padding: 0.5, axis: null},
    color: TREND_COLOR,
    marks: [
      Plot.dot(trendLevels, {x: () => 0, y: d => d, fill: d => d, r: 2.4}),
      Plot.text(trendLevels, {x: () => 0, y: d => d, text: d => d, dx: 8, textAnchor: "start", fill: "#1a1a1a", fontSize: 5.6, fontFamily: FONT})
    ]
  });
  place(svg, left, top);
}

// Panels
trajectoryPanel({left: 0, top: 0, m: [35, 49, 2, 33], yDomain: [3360, 17860], yTicks: ticksPrev, yMinor: minorPrev}, streaksA, curveA);
scatterPanel({left: 365, top: 0, m: [46.7, 49, 5, 30], yDomain: [3407, 17283], yTicks: ticksPrevB, yMinor: minorPrevB}, pointsB, curveB, labelsB);
trajectoryPanel({left: 0, top: 276, m: [35, 46, 9, 25], yDomain: [1426, 6574], yTicks: ticksInc, yMinor: minorIncC}, streaksC, curveC);
scatterPanel({left: 365, top: 276, m: [45, 46, 12, 23], yDomain: [1452, 6473], yTicks: ticksInc, yMinor: minorIncD}, pointsD, curveD, labelsD);
trajectoryPanel({left: 0, top: 552, m: [33, 45, 11, 23], yDomain: [26.2, 136], yTicks: ticksYld, yMinor: minorYld}, streaksE, curveE);
scatterPanel({left: 365, top: 552, m: [42.7, 46.7, 13.3, 16.7], yDomain: [25, 133.5], yTicks: ticksYld, yMinor: minorYld}, pointsF, curveF, labelsF);

yearLegend(327, 97, 54);
yearLegend(330, 381, 54);
yearLegend(330, 660, 53);
trendLegend(693.3, 122, 20);
trendLegend(697, 402.8, 22);
trendLegend(695.3, 684.2, 22.6);

// Overlay texts (titles, panel letters, legend titles)
const ov = d3.select(root).append("svg")
  .attr("width", 730).attr("height", 828)
  .style("position", "absolute").style("left", "0px").style("top", "0px")
  .style("pointer-events", "none").style("font-family", FONT);

const letters = [["A", 2, 16], ["B", 376.5, 16], ["C", 2, 297], ["D", 375, 297], ["E", 3, 578], ["F", 377, 578]];
ov.selectAll("text.letter").data(letters).join("text").attr("class", "letter")
  .attr("x", d => d[1]).attr("y", d => d[2]).attr("font-size", 10).attr("fill", "#000").text(d => d[0]);

const xTitles = [[176, 259.5], [547, 260.5], [177, 543.5], [547, 545.5], [176, 821.5], [545, 827]];
ov.selectAll("text.xt").data(xTitles).join("text").attr("class", "xt")
  .attr("x", d => d[0]).attr("y", d => d[1]).attr("text-anchor", "middle").attr("font-size", 6.5).attr("fill", "#1a1a1a").text("SDI");

const yTitles = [
  ["age-standardized prevalence rate (per 100,000 population)", 12, 122.5],
  ["age-standardized prevalence rate (per 100,000 population)", 386.5, 125.5],
  ["age-standardized incidence rate (per 100,000 population)", 12, 406],
  ["age-standardized incidence rate (per 100,000 population)", 388, 408.5],
  ["age-standardized YLDs rate (per 100,000 population)", 11.5, 684],
  ["age-standardized YLDs rate (per 100,000 population)", 388, 688]
];
ov.selectAll("text.yt").data(yTitles).join("text").attr("class", "yt")
  .attr("transform", d => `translate(${d[1]},${d[2]}) rotate(-90)`)
  .attr("text-anchor", "middle").attr("dominant-baseline", "central")
  .attr("font-size", 6.2).attr("fill", "#1a1a1a").text(d => d[0]);

const legTitles = [["year", 327, 97.5], ["year", 330, 380.5], ["year", 330, 659], ["trend", 692, 117.5], ["trend", 690, 396.5], ["trend", 693.5, 681]];
ov.selectAll("text.lt").data(legTitles).join("text").attr("class", "lt")
  .attr("x", d => d[1]).attr("y", d => d[2]).attr("font-size", d => d[0] === "year" ? 6 : 6.2).attr("fill", "#1a1a1a").text(d => d[0]);
</script></body></html>
